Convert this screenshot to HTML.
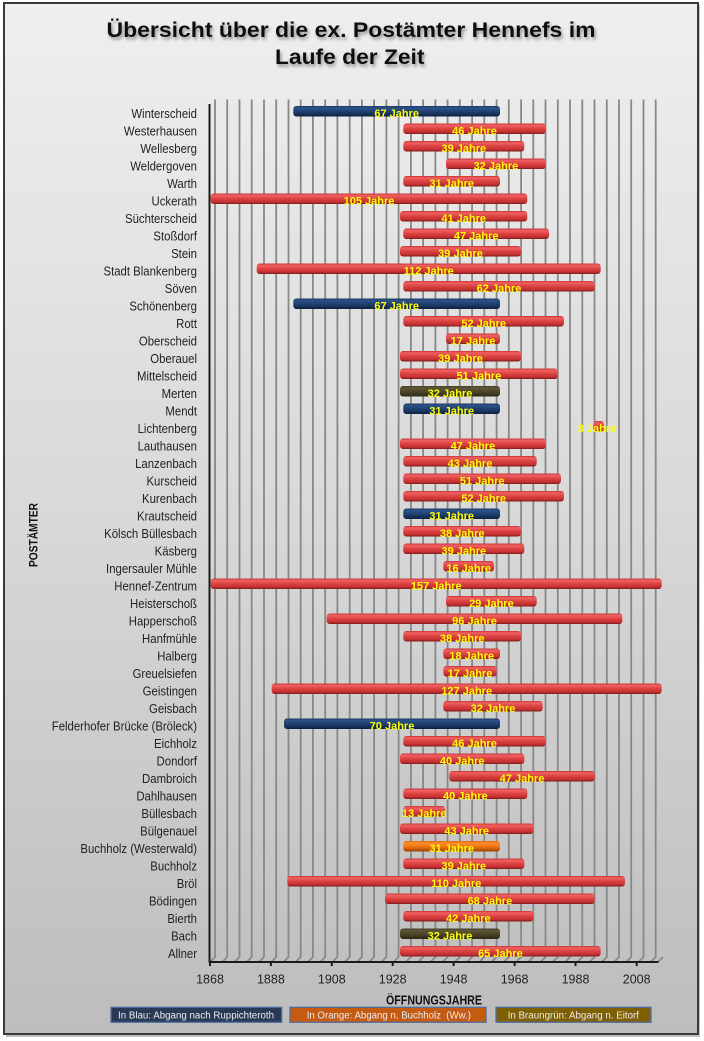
<!DOCTYPE html>
<html><head><meta charset="utf-8"><style>
html,body{margin:0;padding:0;background:#fff;}
svg{display:block;}
</style></head><body>
<svg width="704" height="1041" viewBox="0 0 704 1041" xmlns="http://www.w3.org/2000/svg" font-family="'Liberation Sans', sans-serif">
<defs>
<linearGradient id="bg" x1="0" y1="0" x2="0" y2="1">
<stop offset="0" stop-color="#efefef"/><stop offset="0.5" stop-color="#d8d8d8"/><stop offset="1" stop-color="#bdbdbd"/>
</linearGradient>
<linearGradient id="red" x1="0" y1="0" x2="0" y2="1">
<stop offset="0" stop-color="#c83232"/><stop offset="0.18" stop-color="#f06262"/><stop offset="0.5" stop-color="#db4242"/><stop offset="0.82" stop-color="#c23030"/><stop offset="1" stop-color="#7a1a1a"/>
</linearGradient>
<linearGradient id="blue" x1="0" y1="0" x2="0" y2="1">
<stop offset="0" stop-color="#1d3a64"/><stop offset="0.2" stop-color="#2c5289"/><stop offset="0.55" stop-color="#1e3f6e"/><stop offset="1" stop-color="#0e2240"/>
</linearGradient>
<linearGradient id="olive" x1="0" y1="0" x2="0" y2="1">
<stop offset="0" stop-color="#45402a"/><stop offset="0.2" stop-color="#5e5636"/><stop offset="0.55" stop-color="#4a4428"/><stop offset="1" stop-color="#2c2816"/>
</linearGradient>
<linearGradient id="orange" x1="0" y1="0" x2="0" y2="1">
<stop offset="0" stop-color="#e06a10"/><stop offset="0.2" stop-color="#ff8c2a"/><stop offset="0.55" stop-color="#f07414"/><stop offset="1" stop-color="#9a4200"/>
</linearGradient>
<filter id="sh" x="-5%" y="-30%" width="110%" height="160%">
<feDropShadow dx="1.5" dy="2.5" stdDeviation="1.5" flood-color="#777" flood-opacity="0.8"/>
</filter>
</defs>

<!-- frame -->
<rect x="6" y="5" width="694" height="1032" fill="#999" opacity="0.6"/>
<rect x="4" y="3" width="694" height="1031" fill="url(#bg)" stroke="#3a3a3a" stroke-width="2"/>

<!-- title -->
<g filter="url(#sh)" font-weight="bold" fill="#111" font-size="21">
<text x="106.5" y="37" textLength="489" lengthAdjust="spacingAndGlyphs">Übersicht über die ex. Postämter Hennefs im</text>
<text x="275" y="64" textLength="149.5" lengthAdjust="spacingAndGlyphs">Laufe der Zeit</text>
</g>

<!-- gridlines -->
<g stroke="#888" stroke-width="1.8" fill="none">
<path d="M215 99.5V957L210 962"/><path d="M227.2 99.5V957L222.2 962"/><path d="M239.5 99.5V957L234.5 962"/><path d="M251.7 99.5V957L246.7 962"/><path d="M264 99.5V957L259 962"/><path d="M276.2 99.5V957L271.2 962"/><path d="M288.5 99.5V957L283.5 962"/><path d="M300.7 99.5V957L295.7 962"/><path d="M312.9 99.5V957L307.9 962"/><path d="M325.2 99.5V957L320.2 962"/><path d="M337.4 99.5V957L332.4 962"/><path d="M349.7 99.5V957L344.7 962"/><path d="M361.9 99.5V957L356.9 962"/><path d="M374.1 99.5V957L369.1 962"/><path d="M386.4 99.5V957L381.4 962"/><path d="M398.6 99.5V957L393.6 962"/><path d="M410.9 99.5V957L405.9 962"/><path d="M423.1 99.5V957L418.1 962"/><path d="M435.4 99.5V957L430.4 962"/><path d="M447.6 99.5V957L442.6 962"/><path d="M459.8 99.5V957L454.8 962"/><path d="M472.1 99.5V957L467.1 962"/><path d="M484.3 99.5V957L479.3 962"/><path d="M496.6 99.5V957L491.6 962"/><path d="M508.8 99.5V957L503.8 962"/><path d="M521.1 99.5V957L516.1 962"/><path d="M533.3 99.5V957L528.3 962"/><path d="M545.5 99.5V957L540.5 962"/><path d="M557.8 99.5V957L552.8 962"/><path d="M570 99.5V957L565 962"/><path d="M582.3 99.5V957L577.3 962"/><path d="M594.5 99.5V957L589.5 962"/><path d="M606.8 99.5V957L601.8 962"/><path d="M619 99.5V957L614 962"/><path d="M631.2 99.5V957L626.2 962"/><path d="M643.5 99.5V957L638.5 962"/><path d="M655.7 99.5V957L650.7 962"/>
<path d="M658 962L663 957"/>
</g>

<!-- axes -->
<g stroke="#1a1a1a" stroke-width="2" fill="none">
<path d="M209.5 104V962.5"/>
<path d="M209 962H658.5"/>
<path d="M210 962v4M270.9 962v4M331.8 962v4M392.7 962v4M453.6 962v4M514.6 962v4M575.5 962v4M636.7 962v4"/>
</g>

<!-- tick labels -->
<g font-size="12.5" fill="#222" text-anchor="middle">
<text x="210" y="983.5">1868</text><text x="270.9" y="983.5">1888</text><text x="331.8" y="983.5">1908</text><text x="392.7" y="983.5">1928</text><text x="453.6" y="983.5">1948</text><text x="514.6" y="983.5">1968</text><text x="575.5" y="983.5">1988</text><text x="636.7" y="983.5">2008</text>
</g>

<!-- bars -->
<g>
<rect x="293.3" y="106" width="206.7" height="10.5" rx="3" fill="url(#blue)"/>
<rect x="403.3" y="123.5" width="142.4" height="10.5" rx="3" fill="url(#red)"/>
<rect x="403.3" y="141" width="121" height="10.5" rx="3" fill="url(#red)"/>
<rect x="446" y="158.5" width="99.7" height="10.5" rx="3" fill="url(#red)"/>
<rect x="403.3" y="176" width="96.7" height="10.5" rx="3" fill="url(#red)"/>
<rect x="210.7" y="193.5" width="316.6" height="10.5" rx="3" fill="url(#red)"/>
<rect x="400" y="211" width="127.3" height="10.5" rx="3" fill="url(#red)"/>
<rect x="403.3" y="228.5" width="145.7" height="10.5" rx="3" fill="url(#red)"/>
<rect x="400" y="246" width="121" height="10.5" rx="3" fill="url(#red)"/>
<rect x="256.7" y="263.5" width="344" height="10.5" rx="3" fill="url(#red)"/>
<rect x="403.3" y="281" width="191.4" height="10.5" rx="3" fill="url(#red)"/>
<rect x="293.3" y="298.5" width="206.7" height="10.5" rx="3" fill="url(#blue)"/>
<rect x="403.3" y="316" width="160.7" height="10.5" rx="3" fill="url(#red)"/>
<rect x="446" y="333.5" width="54" height="10.5" rx="3" fill="url(#red)"/>
<rect x="400" y="351" width="121" height="10.5" rx="3" fill="url(#red)"/>
<rect x="400" y="368.5" width="157.7" height="10.5" rx="3" fill="url(#red)"/>
<rect x="400" y="386" width="100" height="10.5" rx="3" fill="url(#olive)"/>
<rect x="403.3" y="403.5" width="96.7" height="10.5" rx="3" fill="url(#blue)"/>
<rect x="593.3" y="421" width="10.7" height="10.5" rx="3" fill="url(#red)"/>
<rect x="400" y="438.5" width="145.7" height="10.5" rx="3" fill="url(#red)"/>
<rect x="403.3" y="456" width="133.4" height="10.5" rx="3" fill="url(#red)"/>
<rect x="403.3" y="473.5" width="157.7" height="10.5" rx="3" fill="url(#red)"/>
<rect x="403.3" y="491" width="160.7" height="10.5" rx="3" fill="url(#red)"/>
<rect x="403.3" y="508.5" width="96.7" height="10.5" rx="3" fill="url(#blue)"/>
<rect x="403.3" y="526" width="117.7" height="10.5" rx="3" fill="url(#red)"/>
<rect x="403.3" y="543.5" width="121" height="10.5" rx="3" fill="url(#red)"/>
<rect x="443.3" y="561" width="50.7" height="10.5" rx="3" fill="url(#red)"/>
<rect x="210.7" y="578.5" width="451" height="10.5" rx="3" fill="url(#red)"/>
<rect x="446" y="596" width="90.7" height="10.5" rx="3" fill="url(#red)"/>
<rect x="326.7" y="613.5" width="295.6" height="10.5" rx="3" fill="url(#red)"/>
<rect x="403.3" y="631" width="117.7" height="10.5" rx="3" fill="url(#red)"/>
<rect x="443.3" y="648.5" width="56.7" height="10.5" rx="3" fill="url(#red)"/>
<rect x="443.3" y="666" width="53.4" height="10.5" rx="3" fill="url(#red)"/>
<rect x="271.7" y="683.5" width="390" height="10.5" rx="3" fill="url(#red)"/>
<rect x="443.3" y="701" width="99.4" height="10.5" rx="3" fill="url(#red)"/>
<rect x="284" y="718.5" width="216" height="10.5" rx="3" fill="url(#blue)"/>
<rect x="403.3" y="736" width="142.4" height="10.5" rx="3" fill="url(#red)"/>
<rect x="400" y="753.5" width="124.3" height="10.5" rx="3" fill="url(#red)"/>
<rect x="449.3" y="771" width="145.4" height="10.5" rx="3" fill="url(#red)"/>
<rect x="403.3" y="788.5" width="124" height="10.5" rx="3" fill="url(#red)"/>
<rect x="403.3" y="806" width="41.7" height="10.5" rx="3" fill="url(#red)"/>
<rect x="400" y="823.5" width="133.3" height="10.5" rx="3" fill="url(#red)"/>
<rect x="403.3" y="841" width="96.7" height="10.5" rx="3" fill="url(#orange)"/>
<rect x="403.3" y="858.5" width="121" height="10.5" rx="3" fill="url(#red)"/>
<rect x="287.3" y="876" width="337.7" height="10.5" rx="3" fill="url(#red)"/>
<rect x="385" y="893.5" width="209.7" height="10.5" rx="3" fill="url(#red)"/>
<rect x="403.3" y="911" width="130" height="10.5" rx="3" fill="url(#red)"/>
<rect x="400" y="928.5" width="100" height="10.5" rx="3" fill="url(#olive)"/>
<rect x="400" y="946" width="200.7" height="10.5" rx="3" fill="url(#red)"/>
</g>

<!-- bar labels -->
<g font-size="11" font-weight="bold" fill="#ffff00" text-anchor="middle">
<text x="396.7" y="117">67 Jahre</text>
<text x="474.5" y="134.5">46 Jahre</text>
<text x="463.8" y="152">39 Jahre</text>
<text x="495.9" y="169.5">32 Jahre</text>
<text x="451.7" y="187">31 Jahre</text>
<text x="369" y="204.5">105 Jahre</text>
<text x="463.7" y="222">41 Jahre</text>
<text x="476.2" y="239.5">47 Jahre</text>
<text x="460.5" y="257">39 Jahre</text>
<text x="428.7" y="274.5">112 Jahre</text>
<text x="499" y="292">62 Jahre</text>
<text x="396.7" y="309.5">67 Jahre</text>
<text x="483.7" y="327">52 Jahre</text>
<text x="473" y="344.5">17 Jahre</text>
<text x="460.5" y="362">39 Jahre</text>
<text x="478.9" y="379.5">51 Jahre</text>
<text x="450" y="397">32 Jahre</text>
<text x="451.7" y="414.5">31 Jahre</text>
<text x="597" y="432">3 Jahre</text>
<text x="472.9" y="449.5">47 Jahre</text>
<text x="470" y="467">43 Jahre</text>
<text x="482.2" y="484.5">51 Jahre</text>
<text x="483.7" y="502">52 Jahre</text>
<text x="451.7" y="519.5">31 Jahre</text>
<text x="462.2" y="537">38 Jahre</text>
<text x="463.8" y="554.5">39 Jahre</text>
<text x="468.7" y="572">16 Jahre</text>
<text x="436.2" y="589.5">157 Jahre</text>
<text x="491.4" y="607">29 Jahre</text>
<text x="474.5" y="624.5">96 Jahre</text>
<text x="462.2" y="642">38 Jahre</text>
<text x="471.7" y="659.5">18 Jahre</text>
<text x="470" y="677">17 Jahre</text>
<text x="466.7" y="694.5">127 Jahre</text>
<text x="493" y="712">32 Jahre</text>
<text x="392" y="729.5">70 Jahre</text>
<text x="474.5" y="747">46 Jahre</text>
<text x="462.2" y="764.5">40 Jahre</text>
<text x="522" y="782">47 Jahre</text>
<text x="465.3" y="799.5">40 Jahre</text>
<text x="424.2" y="817">13 Jahre</text>
<text x="466.7" y="834.5">43 Jahre</text>
<text x="451.7" y="852">31 Jahre</text>
<text x="463.8" y="869.5">39 Jahre</text>
<text x="456.2" y="887">110 Jahre</text>
<text x="489.9" y="904.5">68 Jahre</text>
<text x="468.3" y="922">42 Jahre</text>
<text x="450" y="939.5">32 Jahre</text>
<text x="500.4" y="957">65 Jahre</text>
</g>

<!-- category labels -->
<g transform="translate(197,0) scale(0.91,1)" font-size="12.5" fill="#222" text-anchor="end">
<text x="0" y="118">Winterscheid</text>
<text x="0" y="135.5">Westerhausen</text>
<text x="0" y="153">Wellesberg</text>
<text x="0" y="170.5">Weldergoven</text>
<text x="0" y="188">Warth</text>
<text x="0" y="205.5">Uckerath</text>
<text x="0" y="223">Süchterscheid</text>
<text x="0" y="240.5">Stoßdorf</text>
<text x="0" y="258">Stein</text>
<text x="0" y="275.5">Stadt Blankenberg</text>
<text x="0" y="293">Söven</text>
<text x="0" y="310.5">Schönenberg</text>
<text x="0" y="328">Rott</text>
<text x="0" y="345.5">Oberscheid</text>
<text x="0" y="363">Oberauel</text>
<text x="0" y="380.5">Mittelscheid</text>
<text x="0" y="398">Merten</text>
<text x="0" y="415.5">Mendt</text>
<text x="0" y="433">Lichtenberg</text>
<text x="0" y="450.5">Lauthausen</text>
<text x="0" y="468">Lanzenbach</text>
<text x="0" y="485.5">Kurscheid</text>
<text x="0" y="503">Kurenbach</text>
<text x="0" y="520.5">Krautscheid</text>
<text x="0" y="538">Kölsch Büllesbach</text>
<text x="0" y="555.5">Käsberg</text>
<text x="0" y="573">Ingersauler Mühle</text>
<text x="0" y="590.5">Hennef-Zentrum</text>
<text x="0" y="608">Heisterschoß</text>
<text x="0" y="625.5">Happerschoß</text>
<text x="0" y="643">Hanfmühle</text>
<text x="0" y="660.5">Halberg</text>
<text x="0" y="678">Greuelsiefen</text>
<text x="0" y="695.5">Geistingen</text>
<text x="0" y="713">Geisbach</text>
<text x="0" y="730.5">Felderhofer Brücke (Bröleck)</text>
<text x="0" y="748">Eichholz</text>
<text x="0" y="765.5">Dondorf</text>
<text x="0" y="783">Dambroich</text>
<text x="0" y="800.5">Dahlhausen</text>
<text x="0" y="818">Büllesbach</text>
<text x="0" y="835.5">Bülgenauel</text>
<text x="0" y="853">Buchholz (Westerwald)</text>
<text x="0" y="870.5">Buchholz</text>
<text x="0" y="888">Bröl</text>
<text x="0" y="905.5">Bödingen</text>
<text x="0" y="923">Bierth</text>
<text x="0" y="940.5">Bach</text>
<text x="0" y="958">Allner</text>
</g>

<!-- axis titles -->
<text transform="translate(37.5,567) rotate(-90)" x="0" y="0" font-size="12" font-weight="bold" fill="#111" textLength="64" lengthAdjust="spacingAndGlyphs">POSTÄMTER</text>
<text x="386" y="1004.5" font-size="12.5" font-weight="bold" fill="#111" textLength="96" lengthAdjust="spacingAndGlyphs">ÖFFNUNGSJAHRE</text>

<!-- legend -->
<g stroke="#4f6f9f" stroke-width="1.3">
<rect x="111" y="1007.3" width="170.7" height="15" fill="#293a57"/>
<rect x="290" y="1007.3" width="196" height="15" fill="#c55a11"/>
<rect x="496" y="1007.3" width="155" height="15" fill="#7f6000"/>
</g>
<g font-size="10" fill="#ececec">
<text x="118" y="1018.3" textLength="156" lengthAdjust="spacingAndGlyphs">In Blau: Abgang nach Ruppichteroth</text>
<text x="306.7" y="1018.3" textLength="164.3" lengthAdjust="spacingAndGlyphs" xml:space="preserve">In Orange: Abgang n. Buchholz  (Ww.)</text>
<text x="507.7" y="1018.3" textLength="131.3" lengthAdjust="spacingAndGlyphs">In Braungrün: Abgang n. Eitorf</text>
</g>
</svg>
</body></html>
